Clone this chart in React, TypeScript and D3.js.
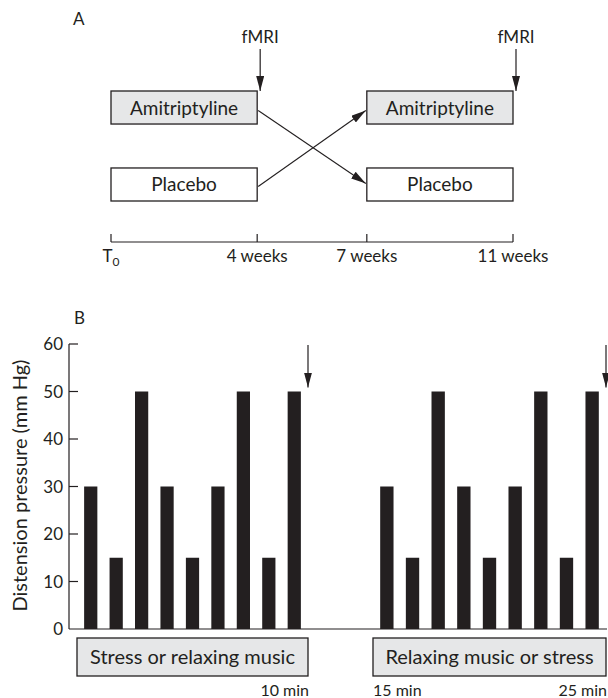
import * as d3 from "d3";

// Panel A: crossover design
const weekTicks: number[] = [0, 4, 7, 11];
const weekLabels: string[] = ["T", "4 weeks", "7 weeks", "11 weeks"];
const arms: string[] = ["Amitriptyline", "Placebo"];
const periodStart: number[] = [0, 7];
const periodEnd: number[] = [4, 11];
const fmriWeeks: number[] = [4, 11];

// Panel B: distension protocol
const pressures: number[] = [30, 15, 50, 30, 15, 30, 50, 15, 50];
const yTicks: number[] = [0, 10, 20, 30, 40, 50, 60];
const sessions: string[] = ["Stress or relaxing music", "Relaxing music or stress"];
const sessionStart: number[] = [0, 15];
const sessionEnd: number[] = [10, 25];
const minuteLabels: number[] = [10, 15, 25];

const FONT = "Lato, 'Open Sans', sans-serif";
const INK = "#231f20";
const BOX_FILL = "#e6e7e8";

export default function App() {
  const w = 608;
  const h = 698;

  // ----- scales for A
  const xWeek = d3.scaleLinear().domain([0, 11]).range([111, 513]);
  const yArm = d3.scaleBand<string>().domain(arms).range([91, 201]).paddingInner(0.571);
  const armFill = (a: string) => (a === "Amitriptyline" ? BOX_FILL : "#fff");
  const axisY = 242;

  // ----- scales for B
  const yP = d3.scaleLinear().domain([0, 60]).range([629, 344]);
  const xMin = d3.scaleLinear().domain([0, 10, 15, 25]).range([77, 308, 373, 606]);
  const bandFor = (i: number) =>
    d3
      .scaleBand<number>()
      .domain(d3.range(pressures.length))
      .range([xMin(sessionStart[i]), xMin(sessionEnd[i])])
      .paddingInner(0.48)
      .paddingOuter(0.28);

  const armCenter = (a: string) => (yArm(a) as number) + yArm.bandwidth() / 2;

  return (
    <svg
      width={w}
      height={h}
      style={{ position: "absolute", left: 0, top: 0, background: "#fff" }}
      fontFamily={FONT}
    >
      <defs>
        <marker
          id="head"
          viewBox="0 0 15 8"
          refX={15}
          refY={4}
          markerWidth={15}
          markerHeight={8}
          markerUnits="userSpaceOnUse"
          orient="auto"
        >
          <path d="M0,0L15,4L0,8Z" fill={INK} />
        </marker>
      </defs>

      {/* ======== Panel A ======== */}
      <text x={73} y={25} fontSize={17} fill={INK}>A</text>

      {fmriWeeks.map((wk, i) => (
        <g key={"f" + i}>
          <text x={xWeek(wk) + 3} y={43} fontSize={17} textAnchor="middle" fill={INK}>fMRI</text>
          <line
            x1={xWeek(wk) + 3}
            x2={xWeek(wk) + 3}
            y1={49}
            y2={91}
            stroke={INK}
            strokeWidth={1.2}
            markerEnd="url(#head)"
          />
        </g>
      ))}

      {periodStart.map((ps, p) =>
        arms.map((a) => (
          <g key={p + a}>
            <rect
              x={xWeek(ps)}
              y={yArm(a)}
              width={xWeek(periodEnd[p]) - xWeek(ps)}
              height={yArm.bandwidth()}
              fill={armFill(a)}
              stroke={INK}
              strokeWidth={1.3}
            />
            <text
              x={(xWeek(ps) + xWeek(periodEnd[p])) / 2}
              y={armCenter(a) + 7}
              fontSize={19}
              textAnchor="middle"
              fill={INK}
            >
              {a}
            </text>
          </g>
        ))
      )}

      {/* crossover arrows */}
      {arms.map((a, i) => (
        <line
          key={"x" + a}
          x1={xWeek(periodEnd[0]) + 1}
          y1={armCenter(a) + 3 - i * 1}
          x2={xWeek(periodStart[1]) - 1}
          y2={armCenter(arms[1 - i]) - 1 + i * 4}
          stroke={INK}
          strokeWidth={1.1}
          markerEnd="url(#head)"
        />
      ))}

      {/* week axis */}
      <line x1={xWeek(0)} x2={xWeek(11)} y1={axisY} y2={axisY} stroke={INK} strokeWidth={1.2} />
      {weekTicks.map((wk, i) => (
        <g key={"w" + wk}>
          <line x1={xWeek(wk)} x2={xWeek(wk)} y1={axisY} y2={axisY - 8} stroke={INK} strokeWidth={1.2} />
          <text x={xWeek(wk)} y={262} fontSize={17} textAnchor="middle" fill={INK}>
            {weekLabels[i]}
            {i === 0 ? (
              <tspan fontSize={12} dy={4}>0</tspan>
            ) : null}
          </text>
        </g>
      ))}

      {/* ======== Panel B ======== */}
      <text x={74} y={324} fontSize={17} fill={INK}>B</text>

      <text
        transform={`translate(27, ${(yP(0) + yP(60)) / 2 - 1}) rotate(-90)`}
        fontSize={20}
        textAnchor="middle"
        fill={INK}
      >
        Distension pressure (mm Hg)
      </text>

      <line x1={69} x2={69} y1={yP(60)} y2={yP(0)} stroke={INK} strokeWidth={1.2} />
      <line x1={69} x2={607} y1={yP(0)} y2={yP(0)} stroke={INK} strokeWidth={1.2} />
      {yTicks.map((t) => (
        <g key={"y" + t}>
          {t > 0 ? (
            <line x1={69} x2={78} y1={yP(t)} y2={yP(t)} stroke={INK} strokeWidth={1.2} />
          ) : null}
          <text x={63} y={yP(t) + 6} fontSize={17} textAnchor="end" fill={INK}>
            {t}
          </text>
        </g>
      ))}

      {sessions.map((s, si) => {
        const band = bandFor(si);
        return (
          <g key={s}>
            {pressures.map((p, i) => (
              <rect
                key={i}
                x={band(i)}
                y={yP(p)}
                width={band.bandwidth()}
                height={yP(0) - yP(p)}
                fill={INK}
              />
            ))}
            <line
              x1={xMin(sessionEnd[si])}
              x2={xMin(sessionEnd[si])}
              y1={yP(60) + 1}
              y2={yP(50) - 4}
              stroke={INK}
              strokeWidth={1.2}
              markerEnd="url(#head)"
            />
            <rect
              x={xMin(sessionStart[si])}
              y={638}
              width={xMin(sessionEnd[si]) - xMin(sessionStart[si])}
              height={38}
              fill={BOX_FILL}
              stroke={INK}
              strokeWidth={1.3}
            />
            <text
              x={(xMin(sessionStart[si]) + xMin(sessionEnd[si])) / 2}
              y={664}
              fontSize={20}
              textAnchor="middle"
              fill={INK}
            >
              {s}
            </text>
          </g>
        );
      })}

      {minuteLabels.map((m, i) => (
        <text
          key={"m" + m}
          x={xMin(m) + (i === 1 ? 0 : 1)}
          y={696}
          fontSize={16}
          textAnchor={i === 1 ? "start" : "end"}
          fill={INK}
        >
          {m} min
        </text>
      ))}
    </svg>
  );
}
